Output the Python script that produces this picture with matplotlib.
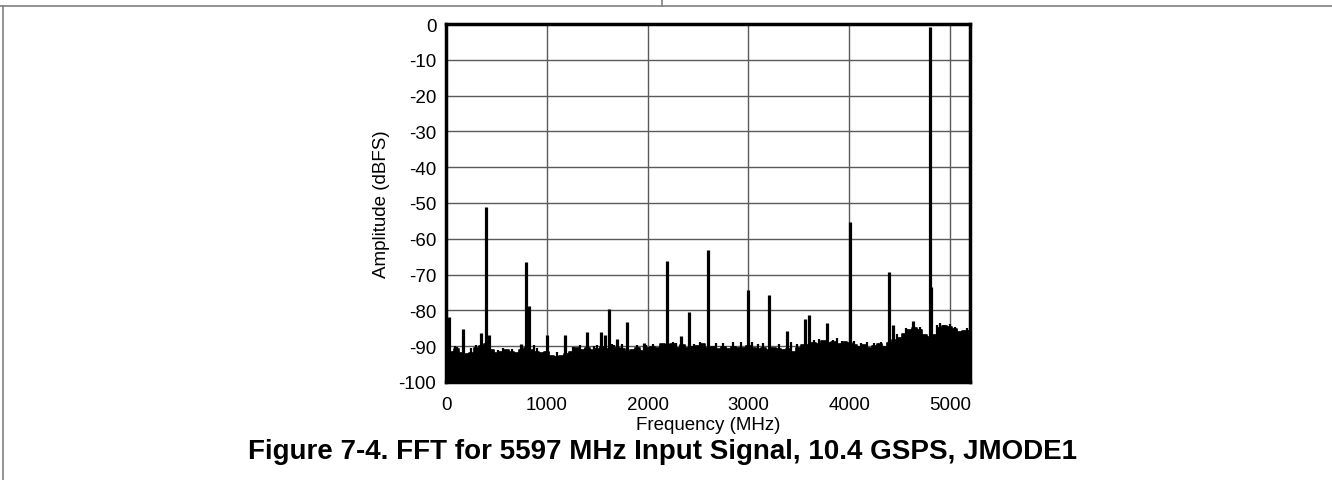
import matplotlib
matplotlib.use("Agg")
import matplotlib.pyplot as plt
import numpy as np
from matplotlib.lines import Line2D

plt.rcParams['font.family'] = ['Liberation Sans', 'DejaVu Sans']
plt.rcParams['axes.unicode_minus'] = False

# Noise floor (top of the dense noise), every 50 MHz from 0 to 5200 MHz
noise_freq = np.arange(0, 5201, 50)
noise_db = [
    -90.5, -91.5, -90.8, -91.8, -92.3, -92.0, -90.5, -90.0, -89.5, -91.0, -91.8,
    -91.5, -91.2, -91.6, -91.8, -91.0, -90.5, -91.0, -91.5, -92.0, -91.6,
    -92.8, -93.0, -92.8, -92.2, -91.5, -90.5, -91.0, -90.5, -91.2, -90.8,
    -90.2, -90.8, -91.0, -90.5, -90.8, -91.5, -91.0, -90.6, -91.3, -90.5,
    -90.2, -90.6, -89.5, -89.8, -89.5, -90.5, -89.8, -90.6, -90.3, -90.0,
    -89.4, -90.6, -90.1, -90.7, -90.3, -90.9, -90.2, -90.6, -90.4, -90.0,
    -90.4, -90.8, -90.6, -91.0, -90.5, -90.9, -91.2, -90.8, -91.5, -90.4,
    -89.6, -89.8, -89.0, -89.4, -88.6, -89.0, -88.8, -89.3, -88.7, -89.2,
    -89.6, -90.2, -89.8, -90.4, -90.0, -89.5, -90.3, -89.0, -88.2, -87.6,
    -86.5, -85.5, -84.8, -85.6, -86.8, -87.5, -87.0, -84.8, -84.3, -84.6,
    -85.2, -86.0, -85.8, -86.3,
]

# Small noise peaks sitting on the floor (MHz, dBFS)
small_freq = [88, 110, 245, 300, 470, 520, 570, 650, 870, 905, 1100, 1260, 1330,
              1470, 1500, 1650, 1670, 1750, 1900, 1980, 2050, 2140, 2250, 2280,
              2460, 2520, 2680, 2750, 2850, 2930, 3040, 3100, 3150, 3300, 3420,
              3480, 3650, 3700, 3840, 3880, 3930, 4050, 4120, 4180, 4250, 4320,
              4480, 4560, 4700, 4870, 4900, 4940, 5000, 5050, 5170, 5190]
small_db = [-90.0, -90.3, -90.5, -89.8, -91.0, -91.2, -90.4, -90.8, -89.7, -90.5,
            -91.5, -90.3, -89.8, -90.0, -89.6, -89.5, -89.8, -89.5, -89.8, -89.7,
            -89.3, -89.6, -88.7, -89.0, -89.3, -88.9, -89.2, -89.0, -88.8, -88.9,
            -88.8, -89.4, -89.0, -89.3, -88.8, -89.4, -88.3, -88.0, -88.2, -87.8,
            -88.5, -88.5, -89.0, -88.9, -89.0, -88.8, -86.5, -85.0, -84.5, -84.2,
            -83.6, -84.0, -83.8, -84.5, -85.0, -85.5]

# Spurs and tones (MHz, dBFS)
spur_freq = [33, 172, 350, 397, 430, 747, 794, 827, 1005, 1184, 1402, 1541,
             1581, 1620, 1700, 1800, 1960, 2196, 2335, 2414, 2600, 2997, 3208,
             3387, 3566, 3605, 3784, 4009, 4399, 4439, 4637, 4803, 4812]
spur_db = [-81.8, -85.3, -86.4, -51.2, -86.9, -89.3, -66.5, -78.7, -86.9, -86.8,
           -86.1, -86.1, -86.9, -79.5, -87.9, -83.2, -89.0, -66.2, -87.1, -80.4,
           -63.2, -74.3, -75.8, -85.8, -82.5, -81.2, -83.6, -55.4, -69.3, -84.1,
           -83.0, -0.8, -73.5]

x_ticks = [0, 1000, 2000, 3000, 4000, 5000]
y_ticks = [0, -10, -20, -30, -40, -50, -60, -70, -80, -90, -100]

W, H = 1332, 481
fig = plt.figure(figsize=(W / 100, H / 100), dpi=100)
ax = fig.add_axes([446 / W, 1 - 383 / H, (970 - 446) / W, (383 - 25) / H])

ax.fill_between(noise_freq, -100, noise_db, step='mid', color='black', lw=0)
ax.step(noise_freq, noise_db, where='mid', color='black', lw=1.2)
ax.vlines(small_freq, -100, small_db, color='black', lw=1.6)
ax.vlines(spur_freq, -100, spur_db, color='black', lw=2.3)

ax.set_xlim(0, 5200)
ax.set_ylim(-100, 0)
ax.set_xticks(x_ticks)
ax.set_yticks(y_ticks)
ax.tick_params(length=0, labelsize=13.5, colors='black')
ax.tick_params(axis='y', pad=7)
ax.tick_params(axis='x', pad=10)
ax.grid(True, color='#5a5a5a', lw=1)
ax.set_axisbelow(True)
for s in ax.spines.values():
    s.set_linewidth(2.5)
    s.set_color('black')

ax.set_xlabel('Frequency (MHz)', fontsize=13.5, labelpad=2)
ax.set_ylabel('Amplitude (dBFS)', fontsize=13.5, labelpad=6)

fig.text(663 / W, 1 - 452 / H, 'Figure 7-4. FFT for 5597 MHz Input Signal, 10.4 GSPS, JMODE1',
         ha='center', va='center', fontsize=20, fontweight='bold')

# page frame lines
fig.add_artist(Line2D([0, 1], [1 - 7 / H, 1 - 7 / H], color='#808080', lw=1.2))
fig.add_artist(Line2D([3 / W, 3 / W], [0, 1 - 7 / H], color='#808080', lw=1.2))
fig.add_artist(Line2D([662 / W, 662 / W], [1 - 7 / H, 1], color='#808080', lw=1.2))

fig.savefig('out.png', dpi=100)
